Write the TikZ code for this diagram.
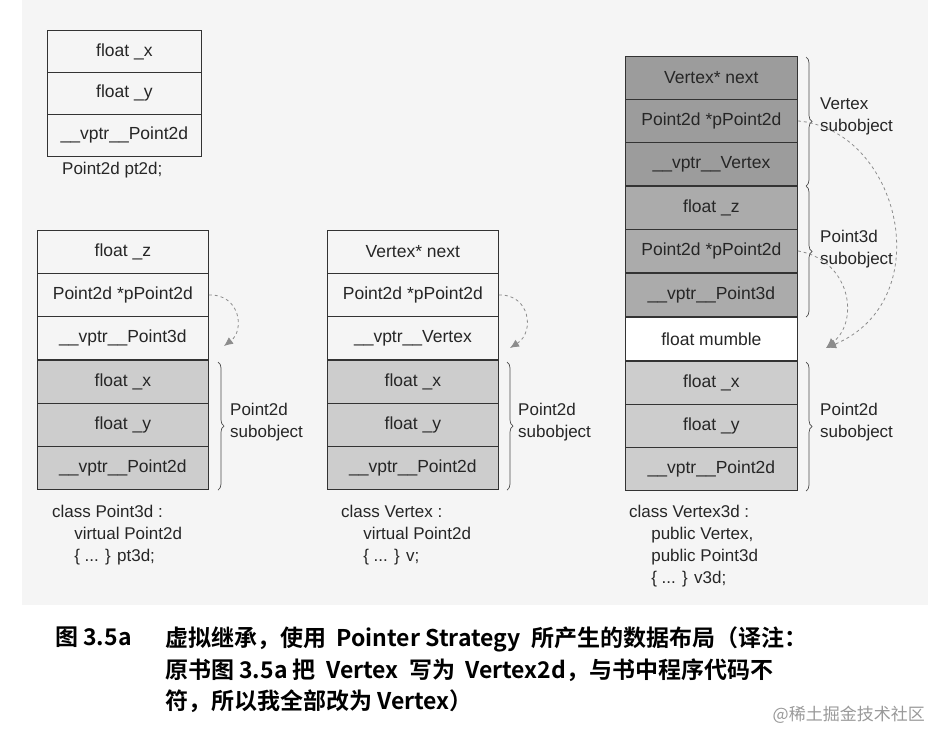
\documentclass[tikz,border=0pt]{standalone}
\usepackage{fontspec}
\setmainfont{Liberation Sans}
\newfontfamily\cjk{Noto Sans CJK SC}[BoldFont={* Bold}]
\usetikzlibrary{decorations.pathreplacing,arrows.meta}
\definecolor{bg}{HTML}{F5F5F5}
\definecolor{dk}{HTML}{9C9C9C}
\definecolor{md}{HTML}{ABABAB}
\definecolor{lt}{HTML}{CDCDCD}
\begin{document}
\begin{tikzpicture}[x=1pt,y=-1pt,
  cell/.style={draw=black!80,line width=0.8pt,minimum width=#1,minimum height=43,inner sep=0,font=\fontsize{17.5}{20}\selectfont,text=black!85,anchor=north west},
  cell/.default=171,
  lbl/.style={font=\fontsize{17}{22}\selectfont,align=left,anchor=north west,text=black!85,inner sep=0},
  br/.style={decorate,decoration={brace,amplitude=6pt},draw=black!70,line width=0.7pt},
  dsh/.style={dashed,draw=black!45,line width=0.8pt},
  captext/.style={font=\cjk\bfseries\fontsize{23}{31.5}\selectfont,anchor=north west,inner sep=0,align=left}]
\useasboundingbox (0,0) rectangle (941,748);
\fill[bg] (22,0) rectangle (928,605);
% top-left
\node[cell=154,minimum height=42] (a1) at (47,30) {float \_x};
\node[cell=154,minimum height=42] (a2) at (47,72) {float \_y};
\node[cell=154,minimum height=42] (a3) at (47,114) {\_\_vptr\_\_Point2d};
\node[lbl] (al) at (62,162) {Point2d pt2d;};
% column 1
\node[cell] (b1) at (37,230) {float \_z};
\node[cell] (b2) at (37,273) {Point2d *pPoint2d};
\node[cell] (b3) at (37,316) {\_\_vptr\_\_Point3d};
\node[cell,fill=lt] (b4) at (37,360) {float \_x};
\node[cell,fill=lt] (b5) at (37,403) {float \_y};
\node[cell,fill=lt] (b6) at (37,446) {\_\_vptr\_\_Point2d};
\draw[br] (218,362) -- (218,490);
\node[lbl] (bs) at (230,403) {Point2d\\subobject};
\node[lbl] (bl) at (52,505) {class Point3d :\\\hspace*{1.3em}virtual Point2d\\\hspace*{1.3em}\{ ... \} pt3d;};
\coordinate (bt) at (224,346);
\draw[dsh,-{Latex[length=9pt,width=8pt]}] (b2.east) .. controls (240,294) and (245,330) .. (bt);
% column 2
\node[cell] (c1) at (327,230) {Vertex* next};
\node[cell] (c2) at (327,273) {Point2d *pPoint2d};
\node[cell] (c3) at (327,316) {\_\_vptr\_\_Vertex};
\node[cell,fill=lt] (c4) at (327,360) {float \_x};
\node[cell,fill=lt] (c5) at (327,403) {float \_y};
\node[cell,fill=lt] (c6) at (327,446) {\_\_vptr\_\_Point2d};
\draw[br] (507,362) -- (507,490);
\node[lbl] (cs) at (518,403) {Point2d\\subobject};
\node[lbl] (cl) at (341,505) {class Vertex :\\\hspace*{1.3em}virtual Point2d\\\hspace*{1.3em}\{ ... \} v;};
\coordinate (ct) at (510,348);
\draw[dsh,-{Latex[length=9pt,width=8pt]}] (c2.east) .. controls (530,294) and (535,332) .. (ct);
% column 3
\node[cell=172,fill=dk] (d1) at (625,56) {Vertex* next};
\node[cell=172,fill=dk] (d2) at (625,99) {Point2d *pPoint2d};
\node[cell=172,fill=dk] (d3) at (625,142) {\_\_vptr\_\_Vertex};
\node[cell=172,fill=md] (d4) at (625,186) {float \_z};
\node[cell=172,fill=md] (d5) at (625,229) {Point2d *pPoint2d};
\node[cell=172,fill=md] (d6) at (625,273) {\_\_vptr\_\_Point3d};
\node[cell=172,fill=white] (d7) at (625,317) {float mumble};
\node[cell=172,fill=lt] (d8) at (625,361) {float \_x};
\node[cell=172,fill=lt] (d9) at (625,404) {float \_y};
\node[cell=172,fill=lt] (d10) at (625,447) {\_\_vptr\_\_Point2d};
\draw[br] (806,57) -- (806,186);
\draw[br] (806,186) -- (806,317);
\draw[br] (806,362) -- (806,491);
\node[lbl] (ds1) at (820,98) {Vertex\\subobject};
\node[lbl] (ds2) at (820,230) {Point3d\\subobject};
\node[lbl] (ds3) at (820,403) {Point2d\\subobject};
\node[lbl] (dl) at (629,505) {class Vertex3d :\\\hspace*{1.3em}public Vertex,\\\hspace*{1.3em}public Point3d\\\hspace*{1.3em}\{ ... \} v3d;};
\coordinate (dt) at (826,348);
\draw[dsh,-{Latex[length=10pt,width=9pt]}] (d2.east) .. controls (900,130) and (940,300) .. (dt);
\draw[dsh,-{Latex[length=10pt,width=9pt]}] (d5.east) .. controls (850,260) and (860,320) .. (dt);
% caption
\node[captext] (k1) at (55,627) {图 3.5a};
\node[captext] (k2) at (165,627) {虚拟继承，使用\ \ Pointer Strategy\ \ 所产生的数据布局（译注：\\原书图 3.5a 把\ \ Vertex\ \ 写为\ \ Vertex2d，与书中程序代码不\\符，所以我全部改为 Vertex）};
\node[font=\cjk\fontsize{17}{19}\selectfont,text=black!40,anchor=north east,inner sep=0] (wm) at (925,706) {@稀土掘金技术社区};
\end{tikzpicture}
\end{document}
